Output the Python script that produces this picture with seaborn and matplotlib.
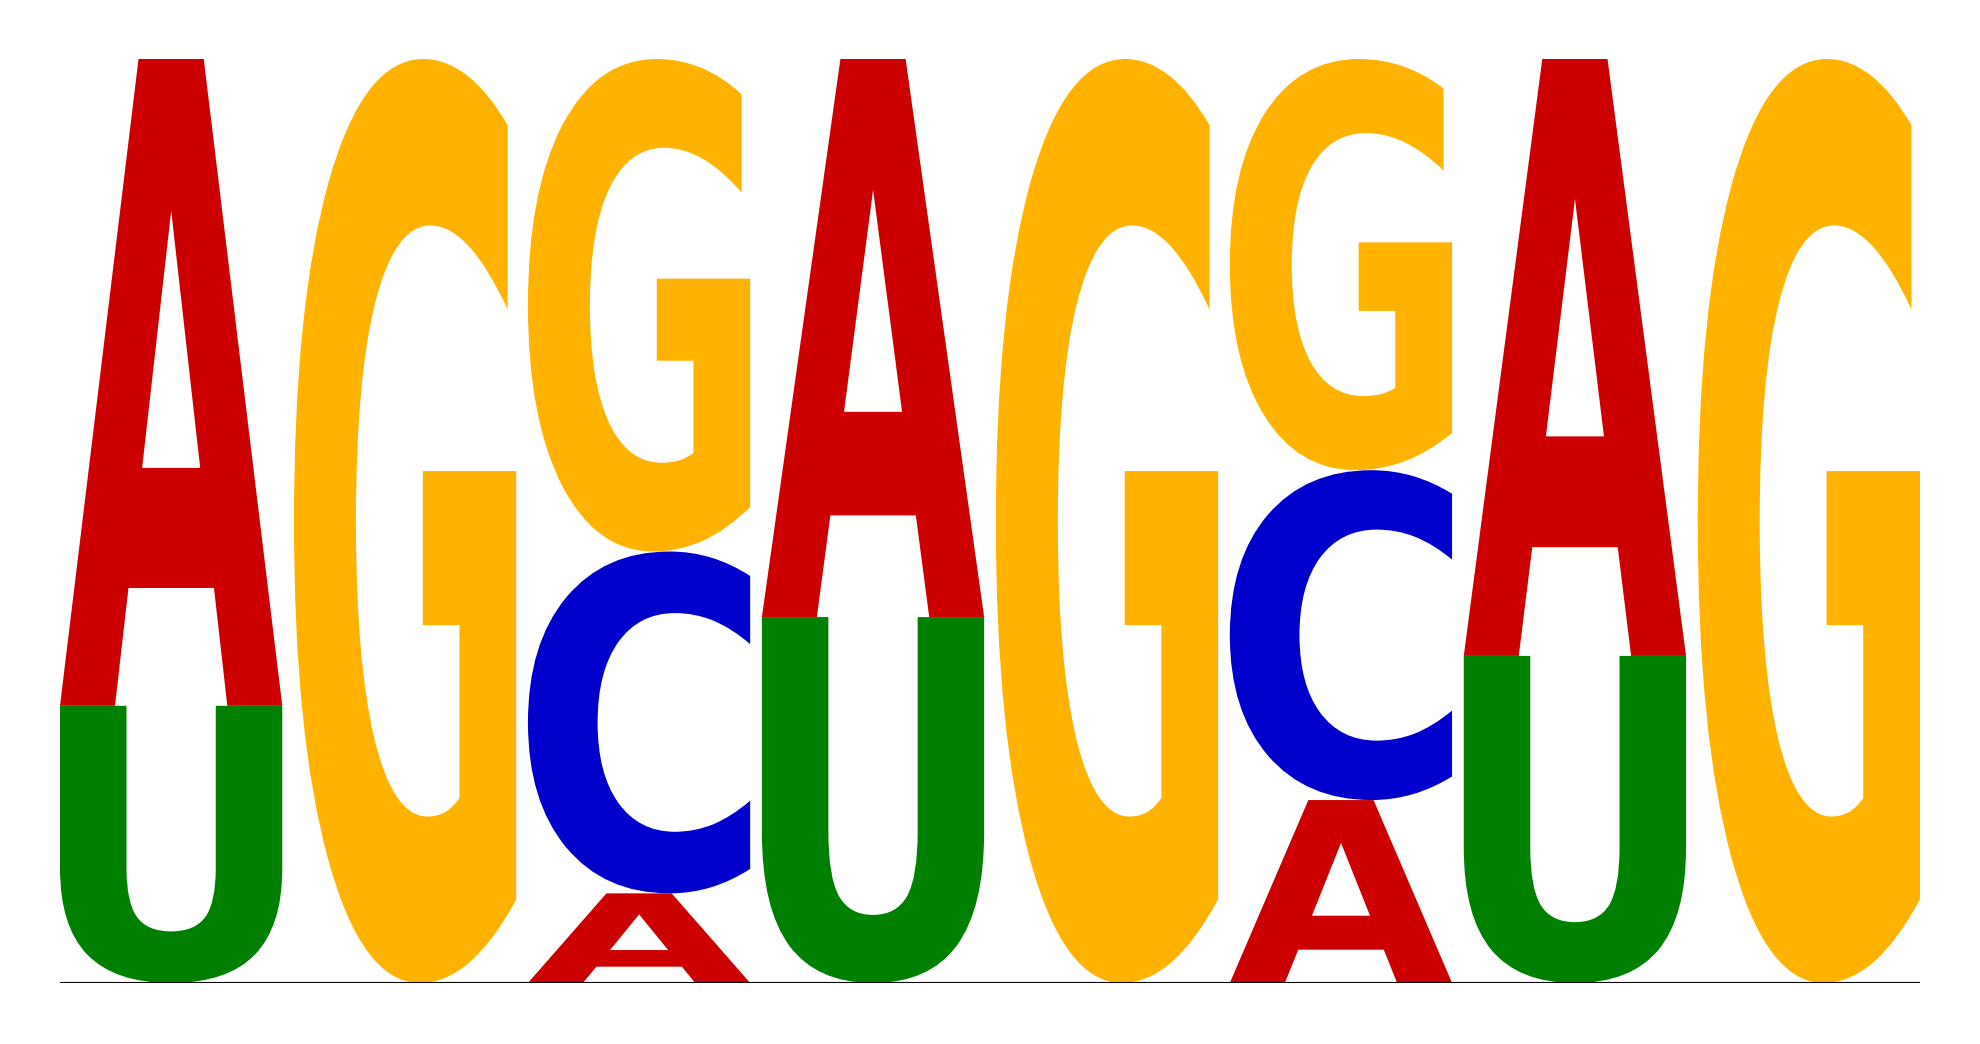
import numpy as np
import seaborn as sns
import matplotlib
matplotlib.use('Agg')
import matplotlib.pyplot as plt
from matplotlib.textpath import TextPath
from matplotlib.patches import PathPatch
from matplotlib.font_manager import FontProperties
from matplotlib.transforms import Affine2D

# Sequence logo data: letters stacked bottom -> top, with relative heights
positions = [1, 2, 3, 4, 5, 6, 7, 8]
stack_letters = [['U', 'A'], ['G'], ['A', 'C', 'G'], ['U', 'A'],
                 ['G'], ['A', 'C', 'G'], ['U', 'A'], ['G']]
stack_heights = [[0.300, 0.700], [1.0], [0.097, 0.370, 0.533], [0.396, 0.604],
                 [1.0], [0.198, 0.357, 0.445], [0.354, 0.646], [1.0]]
letter_colors = {'A': '#CC0000', 'C': '#0000CC', 'G': '#FFB300', 'U': '#008000'}

sns.set_style('white')
fp = FontProperties(family='DejaVu Sans', weight='bold')

fig = plt.figure(figsize=(19.8, 10.44), dpi=100)
ax = fig.add_axes([60 / 1980, (1044 - 983) / 1044, 1860 / 1980, 924 / 1044])

width = 0.95
for pos, letters, heights in zip(positions, stack_letters, stack_heights):
    bottom = 0.0
    for letter, h in zip(letters, heights):
        tp = TextPath((0, 0), letter, size=1, prop=fp)
        bb = tp.get_extents()
        tr = (Affine2D()
              .translate(-bb.x0, -bb.y0)
              .scale(width / bb.width, h / bb.height)
              .translate(pos - width / 2, bottom))
        patch = PathPatch(tr.transform_path(tp), facecolor=letter_colors[letter],
                          edgecolor='none')
        ax.add_patch(patch)
        bottom += h

ax.axhline(0, color='black', lw=1.5)
ax.set_xlim(1 - width / 2, 8 + width / 2)
ax.set_ylim(0, 1)
ax.axis('off')

fig.savefig('out.png', dpi=100)
